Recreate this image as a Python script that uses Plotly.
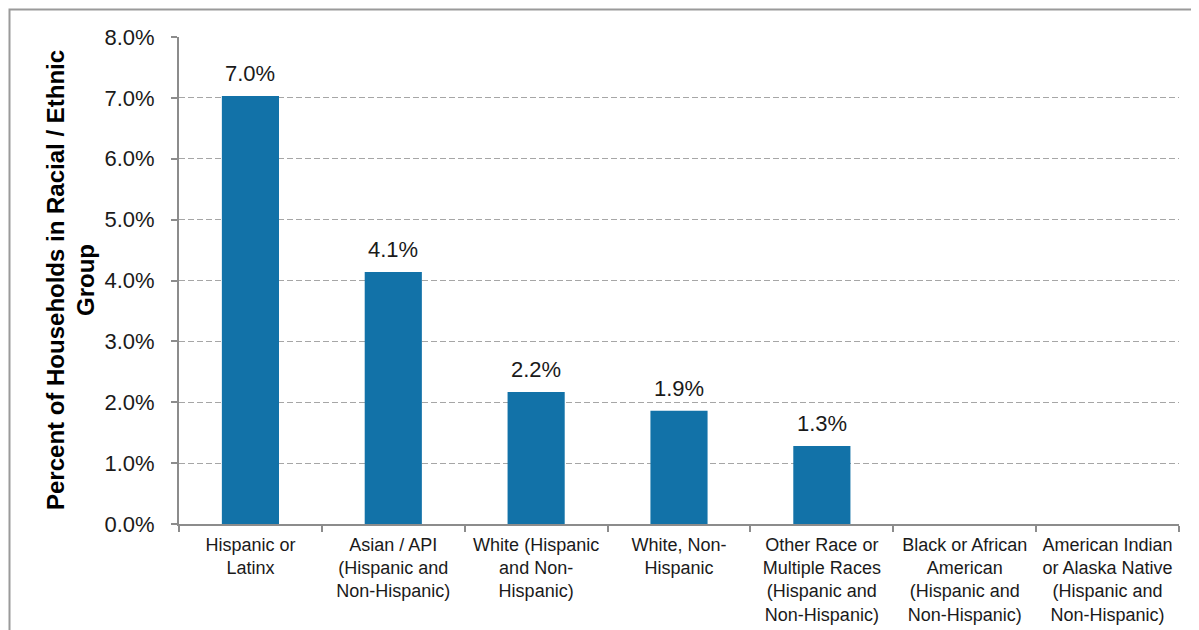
import plotly.graph_objects as go

categories = [
    "Hispanic or<br>Latinx",
    "Asian / API<br>(Hispanic and<br>Non-Hispanic)",
    "White (Hispanic<br>and Non-<br>Hispanic)",
    "White, Non-<br>Hispanic",
    "Other Race or<br>Multiple Races<br>(Hispanic and<br>Non-Hispanic)",
    "Black or African<br>American<br>(Hispanic and<br>Non-Hispanic)",
    "American Indian<br>or Alaska Native<br>(Hispanic and<br>Non-Hispanic)",
]
values = [7.03, 4.14, 2.17, 1.86, 1.28, 0, 0]
labels = ["7.0%", "4.1%", "2.2%", "1.9%", "1.3%", "", ""]
y_ticks = [0, 1, 2, 3, 4, 5, 6, 7, 8]
y_tick_labels = ["0.0%", "1.0%", "2.0%", "3.0%", "4.0%", "5.0%", "6.0%", "7.0%", "8.0%"]
title_lines = ["Percent of Households in Racial / Ethnic", "Group"]

font = "Liberation Sans, Arial, sans-serif"
fig = go.Figure()
fig.add_trace(go.Bar(x=categories, y=values, marker=dict(color="#1272a8", line=dict(width=0)),
                     hoverinfo="skip"))

for c, v, t in zip(categories, values, labels):
    if t:
        fig.add_annotation(x=c, y=v, text=t, showarrow=False, yanchor="bottom", yshift=8,
                           font=dict(family=font, size=22, color="#1a1a1a"))

# rotated y-axis title, two lines placed individually for tight line spacing
for xp, line in zip([-0.1235, -0.0935], title_lines):
    fig.add_annotation(xref="paper", yref="paper", x=xp, y=0.5, text="<b>" + line + "</b>",
                       textangle=-90, showarrow=False, xanchor="center", yanchor="middle",
                       font=dict(family=font, size=24, color="#000000"))

fig.add_shape(type="rect", xref="paper", yref="paper", x0=-0.1695, x1=1.2, y0=-0.4, y1=1.0565,
              line=dict(color="#9a9a9a", width=2), layer="below")

fig.update_layout(
    width=1191, height=622,
    margin=dict(l=171, r=20, t=29, b=106, autoexpand=False),
    paper_bgcolor="white", plot_bgcolor="white",
    bargap=0.6, showlegend=False,
    font=dict(family=font, color="#1a1a1a"),
    xaxis=dict(type="category", tickson="boundaries", ticks="outside", ticklen=6,
               tickcolor="#8c8c8c", tickwidth=2, showline=True, linecolor="#8c8c8c", linewidth=2,
               showgrid=False, tickfont=dict(family=font, size=18, color="#1a1a1a"),
               ticklabelstandoff=3, range=[-0.5, 6.5], automargin=False),
    yaxis=dict(range=[0, 8], tickvals=y_ticks, ticktext=y_tick_labels, ticks="outside", ticklen=6,
               tickcolor="#8c8c8c", tickwidth=2, showline=True, linecolor="#8c8c8c", linewidth=2,
               showgrid=True, gridcolor="#a6a6a6", gridwidth=1, griddash="6px,3px",
               zeroline=False, tickfont=dict(family=font, size=22, color="#1a1a1a"),
               ticklabelstandoff=12, automargin=False),
)
fig.write_html("out.html")
